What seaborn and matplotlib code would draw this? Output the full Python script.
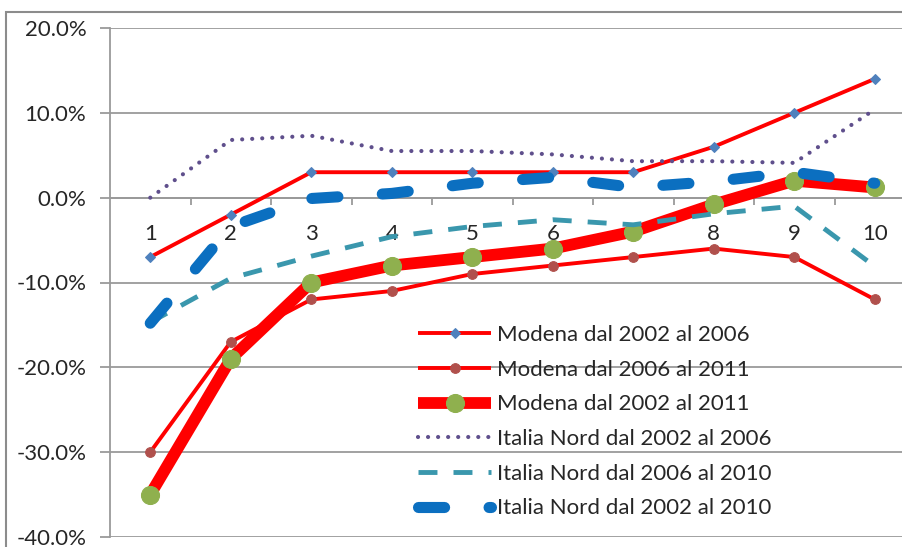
import matplotlib
matplotlib.use("Agg")
import matplotlib.pyplot as plt
from matplotlib.patches import Rectangle
from matplotlib.ticker import FuncFormatter, FixedLocator
import seaborn as sns
import pandas as pd

# Deciles 1..10
categories = [1, 2, 3, 4, 5, 6, 7, 8, 9, 10]
tick_labels = ["1", "2", "3", "4", "5", "6", "7", "8", "9", "10"]

# Percentage changes (fractions)
modena_02_06 = [-0.07, -0.02, 0.03, 0.03, 0.03, 0.03, 0.03, 0.06, 0.10, 0.14]
modena_06_11 = [-0.30, -0.17, -0.12, -0.11, -0.09, -0.08, -0.07, -0.06, -0.07, -0.12]
modena_02_11 = [-0.35, -0.19, -0.10, -0.08, -0.07, -0.06, -0.04, -0.008, 0.02, 0.012]
nord_02_06 = [0.0, 0.068, 0.073, 0.055, 0.055, 0.051, 0.043, 0.043, 0.041, 0.104]
nord_06_10 = [-0.147, -0.095, -0.069, -0.046, -0.034, -0.026, -0.032, -0.019, -0.010, -0.081]
nord_02_10 = [-0.148, -0.034, -0.001, 0.005, 0.017, 0.024, 0.012, 0.019, 0.030, 0.017]

series_names = [
    "Modena dal 2002 al 2006",
    "Modena dal 2006 al 2011",
    "Modena dal 2002 al 2011",
    "Italia Nord dal 2002 al 2006",
    "Italia Nord dal 2006 al 2010",
    "Italia Nord dal 2002 al 2010",
]
series_values = [modena_02_06, modena_06_11, modena_02_11, nord_02_06, nord_06_10, nord_02_10]

sns.set_theme(style="white")
plt.rcParams["font.family"] = ["Lato", "DejaVu Sans"]
text_color = "#262626"
grid_color = "#9a9a9a"

fig = plt.figure(figsize=(9.03, 5.47), dpi=100)
ax = fig.add_axes([110 / 903, 10 / 547, 805 / 903, 509 / 547])

styles = [
    dict(color="#ff0000", lw=2.8, marker="D", ms=5.5, mfc="#4f81bd", mec="#4f81bd", ls="-"),
    dict(color="#ff0000", lw=2.8, marker="o", ms=7, mfc="#b0504c", mec="#b0504c", ls="-"),
    dict(color="#ff0000", lw=8.5, marker="o", ms=13, mfc="#8fb04e", mec="#8fb04e", ls="-"),
    dict(color="#5f4f8c", lw=3.0, marker=None, ls=(0, (0.01, 2.4)), cap="round"),
    dict(color="#3a97ad", lw=3.5, marker=None, ls=(0, (3.9, 3.3)), cap="butt"),
    dict(color="#0b6fc0", lw=8.0, marker=None, ls=(0, (2.35, 4.0)), cap="round"),
]

handles = []
for name, vals, st in zip(series_names, series_values, styles):
    df = pd.DataFrame({"decile": categories, "value": vals})
    sns.lineplot(data=df, x="decile", y="value", ax=ax, color=st["color"],
                 linewidth=st["lw"], marker=st["marker"], markersize=st.get("ms", 0),
                 markerfacecolor=st.get("mfc"), markeredgecolor=st.get("mec"),
                 linestyle=st["ls"], legend=False, zorder=3)
    line = ax.get_lines()[-1]
    line.set_solid_capstyle("butt")
    if "cap" in st:
        line.set_dash_capstyle(st["cap"])
    handles.append(line)

# Axes limits, grid and ticks
ax.set_xlim(0.5, 10.5)
ax.set_ylim(-0.40, 0.20)
ax.set_yticks([-0.4, -0.3, -0.2, -0.1, 0.0, 0.1, 0.2])
ax.yaxis.set_major_formatter(FuncFormatter(lambda v, p: f"{v * 100:.1f}%"))
ax.set_xticks(categories)
ax.set_xticklabels(tick_labels)
ax.xaxis.set_minor_locator(FixedLocator([c + 0.5 for c in categories[:-1]]))
ax.set_xlabel("")
ax.set_ylabel("")

ax.grid(axis="y", color=grid_color, lw=1.3, zorder=0)
ax.grid(axis="x", visible=False)
for s in ["top", "right"]:
    ax.spines[s].set_visible(False)
ax.spines["left"].set_color(grid_color)
ax.spines["left"].set_linewidth(1.3)
ax.spines["bottom"].set_position(("data", 0))
ax.spines["bottom"].set_color(grid_color)
ax.spines["bottom"].set_linewidth(1.3)

ax.tick_params(axis="y", which="major", left=True, length=7, width=1.3, color=grid_color,
               labelsize=16, labelcolor=text_color, pad=10)
ax.tick_params(axis="x", which="major", bottom=False, length=0, labelsize=16,
               labelcolor=text_color, pad=19)
ax.tick_params(axis="x", which="minor", bottom=True, length=5, width=1.3, color=grid_color)
ax.set_facecolor("none")

# Legend without frame
leg = ax.legend(handles, series_names, loc="upper left",
                bbox_to_anchor=(418 / 903, 1 - 325 / 547), bbox_transform=fig.transFigure,
                frameon=False, fontsize=16, handlelength=3.3, handletextpad=0.25,
                labelspacing=0.66, borderpad=0, borderaxespad=0)
for t in leg.get_texts():
    t.set_color(text_color)

# Outer chart border
fig.add_artist(Rectangle((6 / 903, -0.1), 1.2, 1 - 12 / 547 + 0.1, transform=fig.transFigure,
                         fill=False, edgecolor="#8c8c8c", lw=1.5))

fig.savefig("out.png", dpi=100)
